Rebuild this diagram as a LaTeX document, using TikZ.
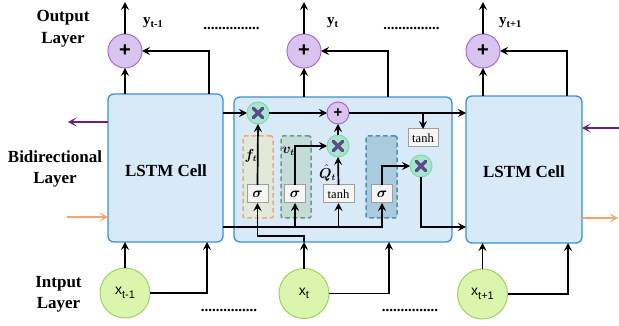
\documentclass[tikz,border=0pt]{standalone}
\usepackage{fontspec}
\setmainfont{Liberation Serif}
\newfontfamily\sansf{Liberation Sans}
\usepackage{bm}
\usetikzlibrary{arrows.meta,calc}
\definecolor{cellf}{HTML}{D8E9F8}
\definecolor{cellb}{HTML}{3D8FD9}
\definecolor{plf}{HTML}{D9C4EF}
\definecolor{plb}{HTML}{A66AD6}
\definecolor{inf}{HTML}{D9F6AC}
\definecolor{inb}{HTML}{A3CF63}
\definecolor{xf}{HTML}{A8E5CB}
\definecolor{xb}{HTML}{84D6B0}
\definecolor{xmk}{HTML}{5D4A8D}
\definecolor{fgf}{HTML}{E2E8DA}
\definecolor{fgb}{HTML}{F5A66B}
\definecolor{igf}{HTML}{C4DCD8}
\definecolor{igb}{HTML}{6E9C76}
\definecolor{ogf}{HTML}{A9CBDD}
\definecolor{ogb}{HTML}{4D90B3}
\definecolor{gbf}{HTML}{F5F5F5}
\definecolor{gbb}{HTML}{9E9E9E}
\definecolor{purp}{HTML}{6E1E78}
\definecolor{oran}{HTML}{F5A46E}
\begin{document}
\begin{tikzpicture}[x=1pt,y=-1pt,
  cell/.style={draw=cellb, fill=cellf, line width=1.3pt, rounded corners=6pt, outer sep=0pt, inner sep=0pt},
  celltext/.style={font=\fontsize{17}{20}\selectfont\bfseries, inner sep=0pt},
  layertext/.style={font=\fontsize{17}{20}\selectfont\bfseries, inner sep=0pt, anchor=base},
  bigplus/.style={circle, draw=plb, fill=plf, line width=1pt, minimum size=34pt, inner sep=0pt, outer sep=0pt, font=\sansf\fontsize{20}{20}\selectfont\bfseries},
  smallplus/.style={circle, draw=plb, fill=plf, line width=1pt, minimum size=22pt, inner sep=0pt, outer sep=0pt, font=\sansf\fontsize{15}{15}\selectfont\bfseries},
  incirc/.style={circle, draw=inb, fill=inf, line width=1pt, minimum size=50pt, inner sep=0pt, outer sep=0pt, font=\sansf\fontsize{14}{16}\selectfont},
  xcirc/.style={circle, draw=xb, fill=xf, line width=1pt, minimum size=22pt, inner sep=0pt, outer sep=0pt,
    path picture={\draw[line width=3.4pt, draw=xmk, line cap=round]
      ([shift={(-4.6pt,-4.6pt)}]path picture bounding box.center) -- ([shift={(4.6pt,4.6pt)}]path picture bounding box.center)
      ([shift={(-4.6pt,4.6pt)}]path picture bounding box.center) -- ([shift={(4.6pt,-4.6pt)}]path picture bounding box.center);}},
  gatebox/.style={rectangle, line width=1.5pt, dash pattern=on 4.5pt off 3pt, rounded corners=2pt, minimum width=30pt, minimum height=82pt, inner sep=0pt, outer sep=0pt},
  sigbox/.style={rectangle, draw=gbb, fill=gbf, line width=1pt, minimum width=21pt, minimum height=18pt, inner sep=0pt, outer sep=0pt, font=\fontsize{13.5}{14}\selectfont},
  tanhbox/.style={rectangle, draw=gbb, fill=gbf, line width=1pt, minimum width=31pt, minimum height=18pt, inner sep=0pt, outer sep=0pt, font=\fontsize{12.5}{12.5}\selectfont},
  arr/.style={line width=1.7pt, -{Stealth[length=8pt,width=8pt,inset=3pt]}},
  parr/.style={line width=1.6pt, draw=purp, -{Stealth[length=8.5pt,width=9pt,inset=4.5pt]}},
  oarr/.style={line width=1.6pt, draw=oran, -{Stealth[length=8.5pt,width=9pt,inset=4.5pt]}},
  ylab/.style={font=\fontsize{15}{18}\selectfont\bfseries, inner sep=0pt, anchor=base west},
  dots/.style={font=\fontsize{15}{18}\selectfont\bfseries, inner sep=0pt, anchor=base},
  mlab/.style={font=\fontsize{13.5}{15}\selectfont, inner sep=0pt}
]
\useasboundingbox (0,0) rectangle (619,326);

% layer labels
\node[layertext] (outA) at (63,22) {Output};
\node[layertext] (outB) at (63,43.5) {Layer};
\node[layertext] (biA) at (55,163) {Bidirectional};
\node[layertext] (biB) at (55,183.5) {Layer};
\node[layertext] (inA) at (58.5,287) {Intput};
\node[layertext] (inB) at (58.5,308) {Layer};

% cells
\node[cell, minimum width=115pt, minimum height=148pt] (c1) at (165.5,168) {};
\node[cell, minimum width=218pt, minimum height=145pt] (c2) at (343,169.5) {};
\node[cell, minimum width=116pt, minimum height=147pt] (c3) at (524,169.5) {};
\node[celltext] (c1t) at (166,170.5) {LSTM Cell};
\node[celltext] (c3t) at (524,172) {LSTM Cell};

% gate boxes
\node[gatebox, draw=fgb, fill=fgf] (fg) at (258,177) {};
\node[gatebox, draw=igb, fill=igf] (ig) at (296,177) {};
\node[gatebox, draw=ogb, fill=ogf, minimum width=31pt] (og) at (381.5,177) {};

% output plus circles
\node[bigplus] (p1) at (125,51) {+};
\node[bigplus] (p2) at (304,51) {+};
\node[bigplus] (p3) at (483,51) {+};
\coordinate (o1) at (125,2);
\coordinate (o2) at (304,2);
\coordinate (o3) at (483,2);

% input circles
\node[incirc] (x1) at (125,293) {x{\fontsize{11}{12}\selectfont\raisebox{-3.5pt}{t-1}}};
\node[incirc] (x2) at (304,293.5) {x{\fontsize{11}{12}\selectfont\raisebox{-3.5pt}{t}}};
\node[incirc] (x3) at (482.5,294) {x{\fontsize{11}{12}\selectfont\raisebox{-3.5pt}{t+1}}};

% output labels
\node[ylab] (y1) at (143,25) {y\textsubscript{t-1}};
\node[ylab] (y2) at (327,25) {y\textsubscript{t}};
\node[ylab] (y3) at (499,25) {y\textsubscript{t+1}};

% dots
\node[dots] (d1) at (231.5,30) {...............};
\node[dots] (d2) at (411.5,30) {...............};
\node[dots] (d3) at (229,311) {...............};
\node[dots] (d4) at (410,311) {...............};

% inner elements
\node[xcirc] (fX) at (258,113) {};
\node[smallplus] (pl) at (338,113) {+};
\node[xcirc] (iX) at (338,146) {};
\node[xcirc] (oX) at (421,166) {};
\node[tanhbox, minimum width=30pt] (tt) at (423,138) {tanh};
\node[sigbox] (fs) at (257.5,194) {$\bm{\sigma}$};
\node[sigbox] (is) at (295,194) {$\bm{\sigma}$};
\node[tanhbox] (tb) at (338.5,194) {tanh};
\node[sigbox] (os) at (382,194) {$\bm{\sigma}$};
\node[mlab] (flab) at (251,156) {$\bm{f_t}$};
\node[mlab] (vlab) at (288.5,151) {$\bm{v_t}$};
\node[mlab] (qlab) at (327.5,173) {$\bm{\hat{Q}_t}$};

% outputs up
\draw[arr] (p1.north) -- (o1);
\draw[arr] (p2.north) -- (o2);
\draw[arr] (p3.north) -- (o3);
\draw[arr] (c1.north -| p1) -- (p1.south);
\draw[arr] (c2.north -| p2) -- (p2.south);
\draw[arr] (c3.north -| p3) -- (p3.south);
\draw[arr] ([xshift=-14pt]c1.north east) |- (p1.east);
\draw[arr] ([xshift=-64pt]c2.north east) |- (p2.east);
\draw[arr] ([xshift=-15pt]c3.north east) |- (p3.east);

% inputs up
\draw[arr] (x1.north) -- (x1.north |- c1.south);
\draw[arr] (x3.north) -- (x3.north |- c3.south);
\draw[arr] (x1.east) -| ([xshift=-16pt]c1.south east);
\draw[arr] (x2.east) -| ([xshift=-63pt]c2.south east);
\draw[arr] (x3.east) -| ([xshift=-14pt]c3.south east);

% bidirectional
\coordinate (pa) at (68,122);
\coordinate (oa) at (67,217);
\coordinate (pb) at (619,128);
\coordinate (ob) at (618,218);
\draw[parr] (c1.west |- pa) -- (pa);
\draw[oarr] (oa) -- (c1.west |- oa);
\draw[parr] (pb) -- (c3.east |- pb);
\draw[oarr] (c3.east |- ob) -- (ob);

% inner connections
\coordinate (L) at ($(c1.south east)+(0,-15)$);
\coordinate (M) at ($(c2.south)+(0,-6)$);
\draw[arr] (c1.east |- fX) -- (fX.west);
\draw[arr] (fX.east) -- (pl.west);
\draw[arr] (pl.east) -- (pl -| c3.west);
\draw[arr] (pl -| tt) -- (tt.north);
\draw[arr] (fs.north) -- (fX.south);
\draw[arr] (is.north) |- (iX.west);
\draw[arr] (tb.north) -- (iX.south);
\draw[arr] (iX.north) -- (pl.south);
\draw[arr] (os.north) |- (oX.west);
\draw[arr] (oX.south) |- (oX.south |- L) -- (L -| c3.west);
\draw[arr] (L) -| (os.south);
\draw[arr] (L -| is) -- (is.south);
\draw[arr] (L -| tb) -- (tb.south);
\draw[arr] (x2.north) -- (x2.north |- c2.south);
\draw[arr] (x2.north |- c2.south) -- (x2.north |- M) -| (fs.south);
\end{tikzpicture}
\end{document}
